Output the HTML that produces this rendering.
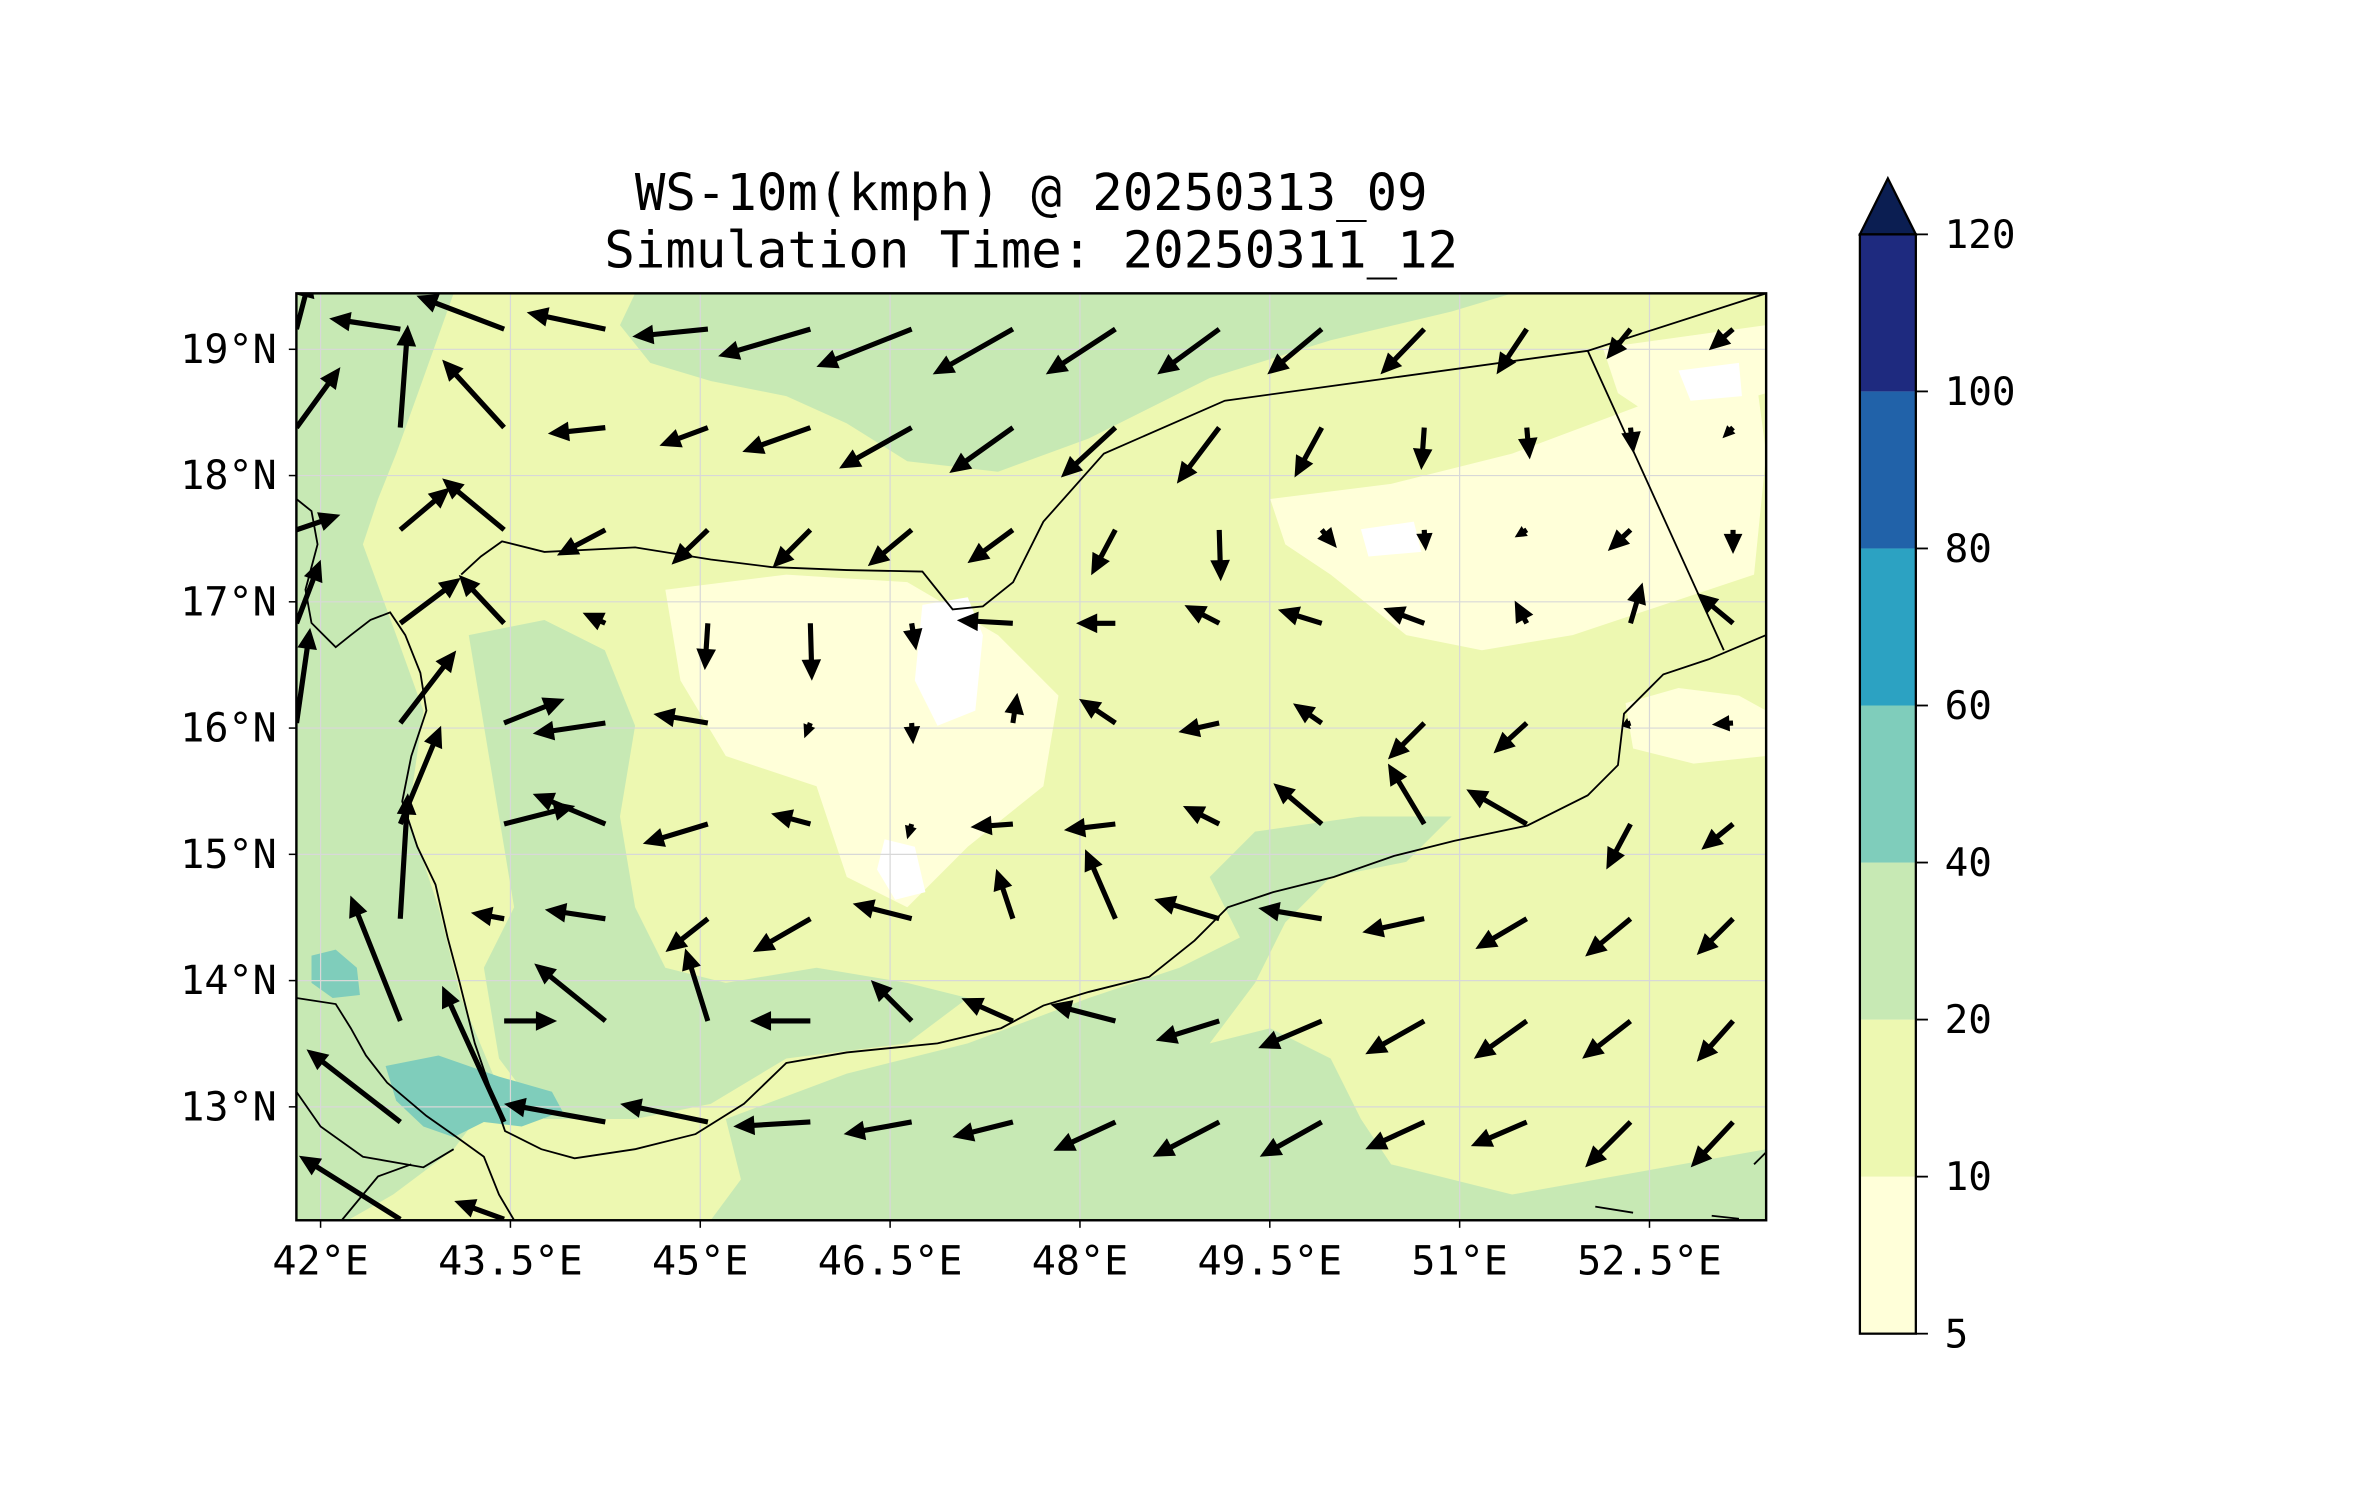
<!DOCTYPE html>
<html><head><meta charset="utf-8">
<style>
html,body{margin:0;padding:0;background:#fff;}
svg{display:block;}
text{font-family:"DejaVu Sans Mono","Liberation Mono",monospace;fill:#000;}
</style></head>
<body>
<svg id="chart" width="2371" height="1500" viewBox="0 0 1568 992" xmlns="http://www.w3.org/2000/svg">
<rect width="1568" height="992" fill="#fff"/>
<text x="682" y="139" font-size="33.5" text-anchor="middle">WS-10m(kmph) @ 20250313_09</text>
<text x="682" y="177" font-size="33.5" text-anchor="middle">Simulation Time: 20250311_12</text>
<defs><clipPath id="mapclip"><rect x="196" y="194" width="972" height="613"/></clipPath></defs>
<g id="map" clip-path="url(#mapclip)">
  <rect x="196" y="194" width="972" height="613" fill="#edf8b1"/>
  <path fill="#c7e9b4" d="M420,194 L1000,194 L960,206 L880,225 L800,250 L720,290 L660,312 L600,305 L560,280 L520,262 L470,252 L430,240 L410,215 Z"/>
  <path fill="#c7e9b4" d="M196,194 L300,194 L280,250 L262,300 L250,330 L240,360 L262,420 L280,470 L270,540 L290,600 L305,660 L330,720 L300,760 L260,790 L230,807 L196,807 Z"/>
  <path fill="#c7e9b4" d="M310,420 L360,410 L400,430 L420,480 L410,540 L420,600 L440,640 L480,650 L540,640 L600,650 L640,660 L600,690 L520,700 L470,730 L420,740 L360,740 L330,700 L320,640 L340,600 L330,540 L320,480 Z"/>
  <path fill="#c7e9b4" d="M480,740 L560,710 L640,690 L720,660 L780,640 L820,620 L800,580 L830,550 L900,540 L960,540 L930,570 L880,580 L850,610 L830,650 L800,690 L840,680 L880,700 L900,740 L920,770 L1000,790 L1168,760 L1168,807 L470,807 L490,780 Z"/>
  <path fill="#ffffd9" d="M440,390 L520,380 L600,385 L660,420 L700,460 L690,520 L640,560 L600,600 L560,580 L540,520 L480,500 L450,450 Z"/>
  <path fill="#ffffd9" d="M840,330 L920,320 L1000,300 L1080,270 L1160,240 L1168,300 L1160,380 L1100,400 L1040,420 L980,430 L930,420 L880,380 L850,360 Z"/>
  <path fill="#ffffd9" d="M1060,230 L1168,215 L1168,260 L1100,280 L1070,260 Z"/>
  <path fill="#ffffd9" d="M1075,465 L1110,455 L1150,460 L1168,470 L1168,500 L1120,505 L1080,495 Z"/>
  <path fill="#ffffff" d="M610,400 L640,395 L650,420 L645,470 L620,480 L605,450 Z"/>
  <path fill="#ffffff" d="M585,555 L605,560 L612,590 L592,595 L580,575 Z"/>
  <path fill="#ffffff" d="M1110,245 L1150,240 L1152,262 L1118,265 Z"/>
  <path fill="#ffffff" d="M900,350 L935,345 L940,365 L905,368 Z"/>
  <path fill="#7fcdbb" d="M255,705 L290,698 L330,712 L365,722 L372,735 L345,745 L320,742 L300,752 L280,745 L262,728 Z"/>
  <path fill="#7fcdbb" d="M206,632 L222,628 L236,640 L238,658 L220,660 L206,650 Z"/>
</g>
<g id="grid" clip-path="url(#mapclip)"></g>
<g clip-path="url(#mapclip)" fill="none" stroke="#000" stroke-width="1.2">
  <path d="M196,330 L206,338 L210,360 L202,390 L206,412 L222,428 L232,420 L245,410 L258,405 L268,420 L278,445 L282,470 L272,500 L266,530 L276,560 L288,585 L296,620 L304,650 L314,690 L326,725 L334,748 L358,760 L380,766 L420,760 L460,750 L492,730 L520,703 L560,696 L620,690 L662,680 L690,665 L720,656 L760,646 L790,622 L812,600 L842,590 L882,580 L922,566 L962,556 L1010,546 L1050,526 L1070,506 L1074,472 L1100,446 L1130,436 L1168,420"/>
  <path d="M305,380 L318,368 L332,358 L360,365 L420,362 L470,370 L510,375 L560,377 L610,378 L630,403 L650,401 L670,385 L690,345 L730,300 L810,265 L1050,232 L1168,194"/>
  <path d="M1050,232 L1140,430"/>
  <path d="M196,660 L222,664 L232,680 L242,698 L256,716 L282,738 L302,752 L320,765 L330,790 L340,807"/>
  <path d="M196,722 L212,745 L240,765 L280,772 L300,760"/>
  <path d="M226,807 L250,778 L272,770"/>
  <path d="M1055,798 L1080,802 M1132,804 L1150,806 M1160,770 L1168,762"/>
</g>
<g id="arrows" clip-path="url(#mapclip)"></g>
<rect x="196" y="194" width="972" height="613" fill="none" stroke="#000" stroke-width="1.6"/>
<g id="axes"></g>
<g id="colorbar"></g>
</svg>
<script>
const lonTicks = [42, 43.5, 45, 46.5, 48, 49.5, 51, 52.5];
const lonLabels = ["42°E","43.5°E","45°E","46.5°E","48°E","49.5°E","51°E","52.5°E"];
const latTicks = [19, 18, 17, 16, 15, 14, 13];
const latLabels = ["19°N","18°N","17°N","16°N","15°N","14°N","13°N"];
const gridLons = [41.81, 42.63, 43.45, 44.25, 45.06, 45.87, 46.67, 47.47, 48.28, 49.10, 49.91, 50.72, 51.53, 52.35, 53.16];
const gridLats = [19.16, 18.38, 17.57, 16.83, 16.04, 15.24, 14.49, 13.68, 12.88, 12.11];
const uRows = [
 [9,-47,-58,-52,-50,-61,-63,-53,-46,-41,-36,-29,-20,-16,-16],
 [29,5,-41,-38,-32,-45,-48,-42,-36,-28,-18,-2,2,2,-7],
 [29,33,-41,-32,-24,-25,-29,-30,-16,1,10,1,-8,-15,0],
 [16,40,-30,-15,-2,1,3,-37,-26,-23,-29,-27,-8,8,-24],
 [9,37,40,-48,-36,-4,1,3,-24,-27,-19,-24,-22,-6,-14],
 [null,27,47,-48,-43,-26,-3,-28,-34,-24,-32,-24,-40,-16,-21],
 [null,5,-22,-40,-28,-38,-39,-11,-20,-43,-42,-41,-34,-30,-24],
 [null,-33,35,-47,-15,-40,-27,-34,-43,-42,-42,-39,-35,-32,-24],
 [null,-62,-41,-67,-58,-51,-45,-40,-41,-44,-41,-39,-37,-30,-28],
 [null,-67,-33,null,null,null,null,null,null,null,null,null,null,null,null]
];
const vRows = [
 [35,7,22,11,-5,-18,-25,-30,-30,-30,-30,-30,-30,-20,-14],
 [40,68,45,-4,-12,-16,-27,-30,-33,-37,-33,-28,-21,-17,-7],
 [10,28,34,-17,-23,-25,-24,-22,-30,-34,-12,-14,-5,-14,-16],
 [42,30,32,7,-31,-38,-18,2,0,12,9,10,15,27,20],
 [63,48,16,-7,6,-10,-14,20,16,-6,13,-24,-20,-2,-1],
 [null,65,12,20,-13,7,-10,-2,-4,12,27,40,23,-30,-17],
 [null,83,4,6,-22,-22,10,33,46,13,7,-9,-20,-25,-24],
 [null,83,0,38,48,0,27,15,11,-13,-18,-22,-25,-25,-27],
 [null,48,90,12,12,-3,-8,-10,-19,-23,-23,-18,-16,-30,-30],
 [null,42,12,null,null,null,null,null,null,null,null,null,null,null,null]
];
const cbLevels = [5, 10, 20, 40, 60, 80, 100, 120];
const cbLabels = ["5","10","20","40","60","80","100","120"];
const cbColors = ["#ffffd9","#edf8b1","#c7e9b4","#7fcdbb","#2ca2c2","#2162a9","#1e2a7f"];

const NS = "http://www.w3.org/2000/svg";
function xLon(lon){ return 212 + (lon - 42) * 83.7; }
function yLat(lat){ return 231 + (19 - lat) * 83.5; }
const vecScale = 1;
function cbY(i){ return 882 - i * ((882 - 155) / (cbLevels.length - 1)); }
function mk(tag, attrs, parent){
  const el = document.createElementNS(NS, tag);
  for (const k in attrs) el.setAttribute(k, attrs[k]);
  parent.appendChild(el);
  return el;
}

const grid = document.getElementById('grid');
lonTicks.forEach(function(lon){
  const l = mk('line', {x1:xLon(lon), x2:xLon(lon), y1:194, y2:807, stroke:'#d8d8d8', 'stroke-width':0.8}, grid);
  
  
});
latTicks.forEach(function(lat){
  const l = mk('line', {x1:196, x2:1168, y1:yLat(lat), y2:yLat(lat), stroke:'#d8d8d8', 'stroke-width':0.8}, grid);
  
  
});

const arrows = document.getElementById('arrows');
for (let r = 0; r < gridLats.length; r++){
  for (let c = 0; c < gridLons.length; c++){
    const u = uRows[r][c], v = vRows[r][c];
    if (u === null || v === null) continue;
    const x0 = xLon(gridLons[c]), y0 = yLat(gridLats[r]);
    const dx = u * vecScale, dy = -v * vecScale;
    const L = Math.sqrt(dx*dx + dy*dy);
    if (L < 1) continue;
    const ux = dx / L, uy = dy / L, px = -uy, py = ux;
    let hl = 14, hw = 6.5, sw = 1.7;
    if (L < hl * 1.2){ const f = L / (hl * 1.2); hl *= f; hw *= Math.max(f, 0.6); }
    const bx = x0 + ux * (L - hl), by = y0 + uy * (L - hl);
    const pts = [
      [x0 + px*sw, y0 + py*sw], [bx + px*sw, by + py*sw], [bx + px*hw, by + py*hw],
      [x0 + dx, y0 + dy], [bx - px*hw, by - py*hw], [bx - px*sw, by - py*sw], [x0 - px*sw, y0 - py*sw]
    ];
    const p = mk('polygon', {points: pts.map(function(q){return q[0].toFixed(1)+','+q[1].toFixed(1);}).join(' '), fill:'#000'}, arrows);
    
    
  }
}

const axes = document.getElementById('axes');
lonTicks.forEach(function(lon, i){
  const t = mk('line', {x1:xLon(lon), x2:xLon(lon), y1:807, y2:812, stroke:'#000', 'stroke-width':1}, axes);
  
  
  const tx = mk('text', {x:xLon(lon), y:843, 'font-size':26.5, 'text-anchor':'middle'}, axes);
  tx.textContent = lonLabels[i];
  
  
});
latTicks.forEach(function(lat, i){
  const t = mk('line', {x1:191, x2:196, y1:yLat(lat), y2:yLat(lat), stroke:'#000', 'stroke-width':1}, axes);
  
  
  const tx = mk('text', {x:183, y:yLat(lat) + 9, 'font-size':26.5, 'text-anchor':'end'}, axes);
  tx.textContent = latLabels[i];
  
  
});

const cb = document.getElementById('colorbar');
for (let i = 0; i < cbColors.length; i++){
  const y1 = cbY(i + 1), y0 = cbY(i);
  const r = mk('rect', {x:1230, y:y1, width:37, height:y0 - y1, fill:cbColors[i]}, cb);
  
  
}
const tri = mk('polygon', {points:'1230,'+cbY(7)+' 1248.5,118 1267,'+cbY(7), fill:'#0b1e52', stroke:'#000', 'stroke-width':1.5}, cb);


const frame = mk('rect', {x:1230, y:cbY(7), width:37, height:cbY(0) - cbY(7), fill:'none', stroke:'#000', 'stroke-width':1.5}, cb);


cbLevels.forEach(function(lv, i){
  const t = mk('line', {x1:1267, x2:1275, y1:cbY(i), y2:cbY(i), stroke:'#000', 'stroke-width':1.2}, cb);
  
  
  const tx = mk('text', {x:1286, y:cbY(i) + 9, 'font-size':26}, cb);
  tx.textContent = cbLabels[i];
  
  
});
</script>
</body></html>
